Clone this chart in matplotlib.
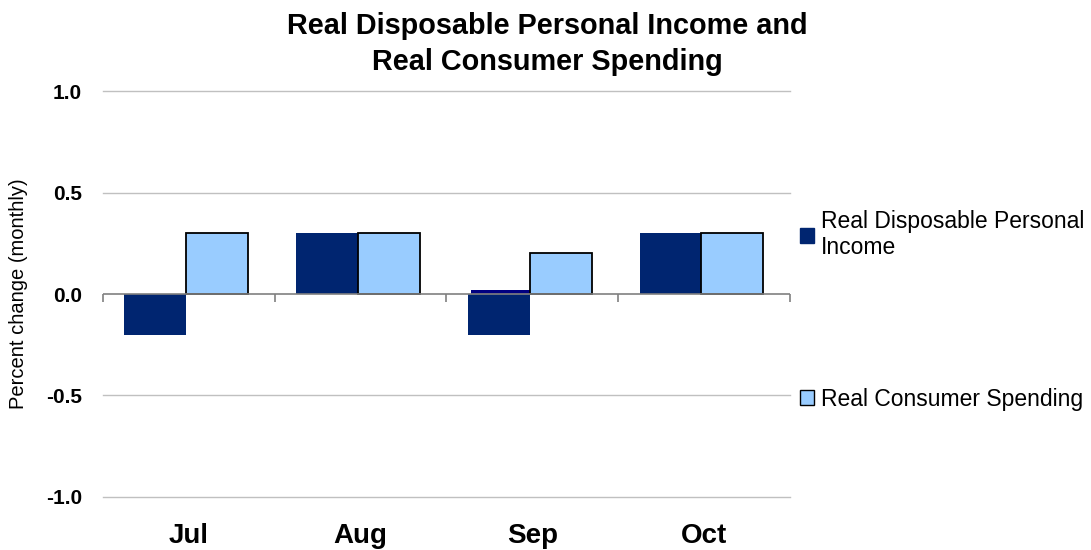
import numpy as np
import matplotlib.pyplot as plt
from matplotlib.patches import Patch

plt.rcParams['font.family'] = ['Liberation Sans', 'DejaVu Sans']

months = ["Jul", "Aug", "Sep", "Oct"]
income = [-0.2, 0.3, -0.2, 0.3]
spending = [0.3, 0.3, 0.2, 0.3]
# small sliver sitting on top of the Sep income bar
income_sliver = [0.0, 0.0, 0.02, 0.0]
yticks = [-1.0, -0.5, 0.0, 0.5, 1.0]

dark = "#002570"
light = "#99CCFF"

fig = plt.figure(figsize=(10.91, 5.5), dpi=100)
ax = fig.add_axes([0.0944, 0.0964, 0.6296, 0.7381])

x = np.arange(len(months))
w = 0.36
off = -0.015
ax.bar(x - w / 2 + off, income, w, color=dark, zorder=3)
ax.bar(x - w / 2 + off + 0.01, income_sliver, w - 0.02, color="#000080", zorder=3)
ax.bar(x + w / 2 + off, spending, w, color=light, edgecolor="black", linewidth=1.3, zorder=3)

ax.set_xlim(-0.5, len(months) - 0.5)
ax.set_ylim(-1.0, 1.0)
ax.set_yticks(yticks)
ax.set_yticklabels([f"{v:.1f}" for v in yticks], fontsize=15, fontweight="bold")
for v in yticks:
    if v != 0:
        ax.axhline(v, color="#c0c0c0", linewidth=1, zorder=1, clip_on=False)

# category axis drawn at zero
ax.axhline(0, color="#808080", linewidth=1.2, zorder=4)
bounds = np.arange(len(months) + 1) - 0.5
ax.vlines(bounds, -0.04, 0, color="#808080", linewidth=1.2, zorder=4, clip_on=False)

ax.set_xticks(x)
ax.set_xticklabels(months, fontsize=20, fontweight="bold")
ax.tick_params(axis="both", length=0)
ax.tick_params(axis="x", pad=19)
ax.tick_params(axis="y", pad=15)
for s in ax.spines.values():
    s.set_visible(False)

ax.set_ylabel("Percent change (monthly)", fontsize=14.5, labelpad=13)

fig.suptitle("Real Disposable Personal Income and\nReal Consumer Spending",
             fontsize=20.8, fontweight="bold", x=0.502, y=0.978, linespacing=1.38)

handles = [Patch(facecolor=dark, edgecolor=dark),
           Patch(facecolor=light, edgecolor="black")]
fig.legend(handles, ["Real Disposable Personal\nIncome", "Real Consumer Spending"],
           loc="upper left", bbox_to_anchor=(0.714, 0.656), frameon=False,
           fontsize=16.5, labelspacing=5.6, handlelength=0.65, handleheight=0.65,
           handletextpad=0.3)

fig.savefig("out.png", dpi=100)
